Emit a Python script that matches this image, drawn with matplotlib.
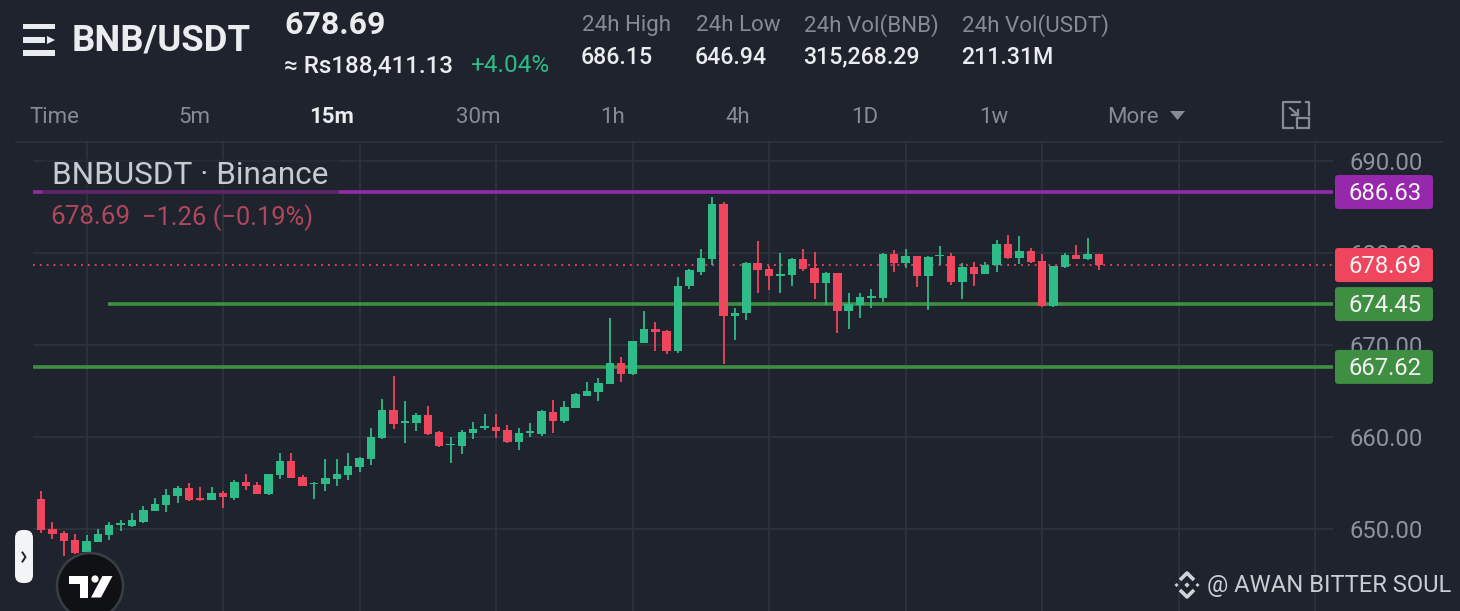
import numpy as np
import matplotlib
matplotlib.use('Agg')
from matplotlib import pyplot as plt
from matplotlib.patches import FancyBboxPatch, Circle, Polygon, Rectangle

plt.rcParams['font.family'] = ['Roboto', 'DejaVu Sans']

opens = [653.22, 650.00, 649.60, 648.80, 647.46, 648.58, 649.38, 650.43, 650.36, 650.79,
         651.99, 652.64, 653.62, 654.45, 653.37, 653.19, 653.91, 653.40, 655.11, 654.78,
         653.80, 655.83, 657.35, 655.61, 654.92, 654.86, 655.43, 655.87, 656.74, 657.57,
         659.89, 662.93, 661.56, 661.56, 662.39, 660.58, 659.09, 659.02, 660.43, 660.98,
         661.12, 660.76, 659.46, 660.43, 660.36, 662.72, 661.70, 663.15, 664.49, 664.89,
         665.79, 668.04, 666.85, 670.26, 671.74, 671.56, 669.39, 676.38, 677.94, 679.31,
         685.33, 673.19, 673.48, 678.95, 678.26, 677.54, 677.57, 679.31, 678.37, 676.74,
         677.83, 673.73, 674.31, 675.15, 675.11, 679.89, 678.92, 679.64, 677.54, 679.68,
         679.68, 676.89, 678.52, 677.76, 678.73, 680.98, 679.50, 680.26, 679.13, 674.28,
         678.52, 679.75, 679.35, 679.89]
closes = [649.89, 649.45, 648.69, 647.39, 648.69, 649.45, 650.43, 650.65, 650.98, 652.06,
          652.71, 653.69, 654.49, 653.11, 653.11, 653.91, 653.48, 655.14, 654.67, 653.80,
          655.98, 657.39, 655.58, 654.71, 655.03, 655.54, 656.01, 656.85, 657.75, 660.00,
          662.90, 661.41, 661.70, 662.39, 660.36, 658.98, 659.24, 660.54, 660.87, 661.19,
          660.69, 659.42, 660.40, 660.65, 662.86, 661.74, 663.26, 664.71, 665.00, 665.87,
          668.04, 666.85, 670.43, 671.74, 671.42, 669.39, 676.42, 678.15, 679.42, 685.33,
          673.15, 673.44, 678.95, 678.15, 677.50, 677.72, 679.39, 678.26, 676.74, 677.83,
          673.70, 674.46, 675.18, 675.29, 679.93, 678.92, 679.68, 677.50, 679.57, 679.79,
          676.85, 678.48, 677.72, 678.73, 680.98, 679.50, 680.18, 679.06, 674.28, 678.59,
          679.79, 679.39, 679.89, 678.69]
highs = [654.16, 650.72, 649.82, 649.45, 649.35, 650.03, 650.76, 650.98, 651.70, 652.50,
         653.37, 654.35, 654.67, 655.03, 654.60, 654.56, 654.09, 655.32, 656.01, 655.11,
         655.98, 658.26, 658.29, 655.87, 655.11, 657.61, 657.61, 658.26, 657.86, 660.98,
         664.17, 666.63, 663.91, 662.64, 663.37, 660.65, 660.03, 660.72, 661.67, 662.53,
         662.53, 661.30, 660.94, 661.56, 662.93, 664.02, 663.88, 664.75, 665.98, 666.41,
         672.93, 668.73, 670.43, 673.73, 672.50, 671.60, 677.36, 678.26, 680.40, 686.13,
         685.55, 673.99, 679.02, 681.31, 678.59, 680.04, 679.42, 680.47, 680.11, 677.90,
         677.87, 675.69, 675.69, 676.09, 680.00, 680.33, 680.44, 679.68, 679.64, 680.76,
         680.00, 678.88, 679.02, 678.99, 681.42, 681.96, 681.85, 680.51, 679.89, 678.63,
         680.00, 680.87, 681.63, 679.93]
lows = [649.60, 648.91, 647.06, 647.28, 647.35, 648.58, 648.80, 649.74, 650.25, 650.61,
        651.99, 651.88, 652.82, 653.00, 653.00, 653.15, 652.28, 653.15, 654.24, 653.80,
        653.73, 655.47, 655.58, 654.71, 653.22, 654.13, 654.71, 655.33, 656.23, 656.96,
        659.82, 660.87, 659.31, 660.69, 660.25, 658.91, 657.17, 658.15, 659.78, 660.76,
        659.85, 659.38, 658.59, 659.96, 660.11, 660.40, 661.52, 663.15, 664.45, 663.91,
        665.76, 665.98, 666.74, 670.26, 669.35, 669.02, 669.13, 676.05, 677.65, 678.70,
        667.94, 670.55, 672.72, 675.69, 675.94, 675.62, 676.45, 678.05, 675.00, 674.35,
        671.31, 671.71, 672.97, 674.06, 674.64, 677.97, 678.41, 676.34, 673.81, 678.66,
        676.56, 675.00, 676.45, 677.72, 677.97, 679.31, 678.81, 678.88, 674.17, 674.17,
        678.41, 679.35, 679.24, 678.16]

price_ticks = [650, 660, 670, 680, 690]
time_ticks = list(range(4, 113, 12))
last_price = 678.69
support_1 = 674.45
support_2 = 667.62
resistance = 686.63

stat_labels = ['24h High', '24h Low', '24h Vol(BNB)', '24h Vol(USDT)']
stat_values = ['686.15', '646.94', '315,268.29', '211.31M']
stat_x = [582, 696, 804, 962]
intervals = ['5m', '15m', '30m', '1h', '4h', '1D', '1w']
interval_x = [194, 332, 478, 613, 738, 865, 994]

BG = '#1e232d'
GRID = '#2e343e'
UP = '#2ebb87'
DOWN = '#f0465d'
PURPLE = '#9528ab'
LINE_GREEN = '#3f8f42'
WHITE = '#eaecef'
GREY = '#858c98'
W, H = 1460, 611

fig = plt.figure(figsize=(W / 100, H / 100), dpi=100, facecolor=BG)

# price axes sits on the chart area, x is candle number
ax = fig.add_axes([33 / W, 0, 1300 / W, (H - 142) / H], facecolor=BG)
ax.set_xlim((33 - 41) / 11.376, (1333 - 41) / 11.376)
ax.set_ylim(690 - (H - 161) / 9.2, 690 + 19 / 9.2)
for s in ax.spines.values():
    s.set_visible(False)
ax.set_xticks(time_ticks)
ax.set_xticklabels([])
ax.set_yticks(price_ticks)
ax.set_yticklabels(['%.2f' % p for p in price_ticks], fontsize=17.2, color='#8d949e')
ax.yaxis.tick_right()
ax.tick_params(axis='both', length=0)
ax.tick_params(axis='y', pad=12)
ax.grid(True, color=GRID, lw=1.2, zorder=0)
ax.set_axisbelow(True)

xmin, xmax = ax.get_xlim()
ax.hlines(resistance, xmin, xmax, color=PURPLE, lw=2.6, zorder=2)
ax.hlines(support_1, (108 - 41) / 11.376, xmax, color=LINE_GREEN, lw=2.6, zorder=2)
ax.hlines(support_2, xmin, xmax, color=LINE_GREEN, lw=2.6, zorder=2)
ax.hlines(last_price, xmin, xmax, color=DOWN, lw=1.3, linestyles=(0, (1, 2.8)), zorder=2)

o = np.array(opens)
c = np.array(closes)
x = np.arange(len(o))
col = [UP if b >= a else DOWN for a, b in zip(o, c)]
ax.vlines(x, lows, highs, colors=col, lw=1.3, zorder=3)
ax.bar(x, np.abs(c - o), bottom=np.minimum(o, c), width=0.74, color=col, zorder=4)

# everything else is app chrome, drawn in image pixels
ui = fig.add_axes([0, 0, 1, 1], facecolor='none')
ui.set_xlim(0, W)
ui.set_ylim(H, 0)
ui.axis('off')


def price_y(p):
    return H - ax.transData.transform((0, p))[1]


def label(s, px, py, size, color=WHITE, weight='normal', ha='left'):
    ui.text(px, py + 1.5, s, fontsize=size, color=color, fontweight=weight, ha=ha, va='center')


for p, box in [(resistance, PURPLE), (last_price, DOWN), (support_1, LINE_GREEN), (support_2, LINE_GREEN)]:
    py = price_y(p)
    ui.add_patch(FancyBboxPatch((1337, py - 15), 94, 30, boxstyle='round,pad=2,rounding_size=3',
                                fc=box, ec='none'))
    label('%.2f' % p, 1385, py, 17.2, color='#f4f4f6', ha='center')

# line is dimmed below the legend title
ui.add_patch(Rectangle((42, 158), 297, 36, fc=BG, ec='none', alpha=0.45))
label('BNBUSDT · Binance', 52, 174, 22.7, color='#c6cad1')
label('678.69', 50, 216, 18.7, color='#b0475a')
label('−1.26 (−0.19%)', 142, 216, 18.4, color='#b0475a')

# header
ui.add_patch(Rectangle((23, 24), 32, 5, fc=WHITE, ec='none'))
ui.add_patch(Rectangle((23, 37), 22, 6, fc=WHITE, ec='none'))
ui.add_patch(Polygon([(47, 36), (47, 44), (55, 40)], fc=WHITE, ec='none'))
ui.add_patch(Rectangle((23, 50), 32, 6, fc=WHITE, ec='none'))
label('BNB/USDT', 72, 39, 26.3, weight='bold')
label('678.69', 284, 23.5, 23, weight='bold')
label('≈ Rs188,411.13', 284, 64, 17.4, weight='medium')
label('+4.04%', 470, 64.5, 17.6, color=UP)
for s, v, px in zip(stat_labels, stat_values, stat_x):
    label(s, px, 24, 16.1, color=GREY)
    label(v, px - 1, 55.5, 16.7, weight='medium')

label('Time', 29, 116, 16, color=GREY)
for s, px in zip(intervals, interval_x):
    if s == '15m':
        label(s, px, 115.5, 16, color=WHITE, weight='bold', ha='center')
    else:
        label(s, px, 116, 16, color=GREY, ha='center')
label('More', 1107, 116, 16, color=GREY)
ui.add_patch(Polygon([(1170, 111), (1185, 111), (1177.5, 120)], fc=GREY, ec='none'))
ui.plot([1306, 1309, 1309], [102, 102, 115], color=GREY, lw=1.6)
ui.plot([1300, 1283, 1283, 1293], [102, 102, 128, 128], color=GREY, lw=1.6)
ui.add_patch(Rectangle((1297, 118), 12, 10, fc='none', ec=GREY, lw=1.6))
ui.plot([1290, 1298], [108, 115], color=GREY, lw=1.6)
ui.plot([1298, 1298, 1292], [110, 115, 115], color=GREY, lw=1.6)
ui.plot([16, 1442], [142, 142], color=GRID, lw=1.2, zorder=1)

# side handle and tradingview badge
ui.add_patch(FancyBboxPatch((21, 536), 6, 41, boxstyle='round,pad=6,rounding_size=8', fc='#f2f3f5', ec='none'))
ui.plot([22.5, 25.5, 22.5], [552.5, 557, 561.5], color='#1e232d', lw=1.4)
ui.add_patch(Circle((90, 586), 33, fc='#101114', ec='#3a3e45', lw=1.8))
ui.add_patch(Polygon([(69, 576), (87.5, 576), (87.5, 597.5), (79.5, 597.5), (79.5, 584), (69, 584)], fc='white', ec='none'))
ui.add_patch(Circle((95, 579), 3.6, fc='white', ec='none'))
ui.add_patch(Polygon([(102.5, 576), (112.5, 576), (101, 597.5), (91, 597.5)], fc='white', ec='none'))

# watermark
for dx, dy, r in [(0, 0, 2.6), (-10.5, 0, 2), (10.5, 0, 2)]:
    ui.add_patch(Polygon([(1187 + dx - r, 585 + dy), (1187 + dx, 585 + dy - r), (1187 + dx + r, 585 + dy), (1187 + dx, 585 + dy + r)],
                         fc='#d0d3d8', ec='none'))
ui.plot([1180, 1187, 1194], [580, 573, 580], color='#d0d3d8', lw=2.6, solid_capstyle='butt')
ui.plot([1180, 1187, 1194], [590, 597, 590], color='#d0d3d8', lw=2.6, solid_capstyle='butt')
label('@ AWAN BITTER SOUL', 1207, 584, 17.1, color='#c9cdd3')

fig.savefig('out.png', dpi=100, facecolor=BG)
